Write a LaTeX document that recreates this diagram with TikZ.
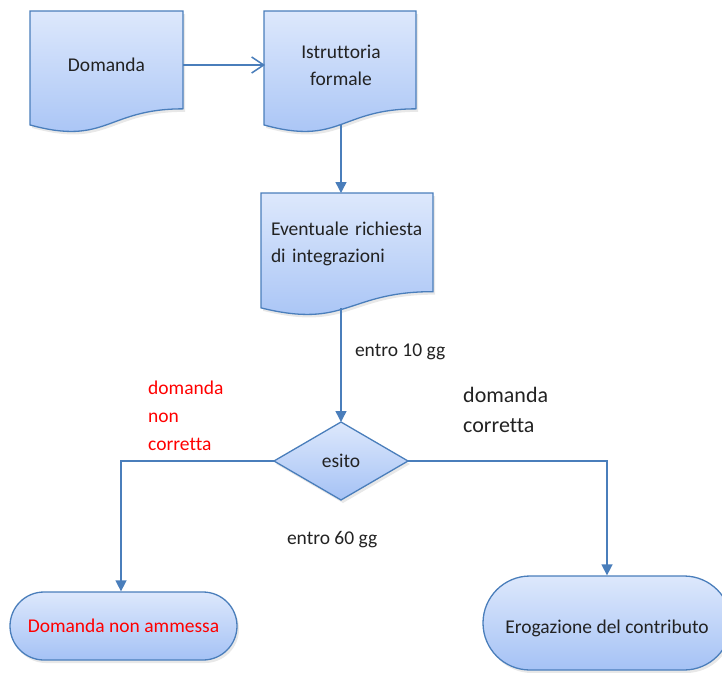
\documentclass[tikz,border=0pt]{standalone}
\usepackage{fontspec}
\setmainfont[Ligatures=NoCommon]{Carlito}
\usetikzlibrary{arrows.meta,shadows,shapes.geometric}
\definecolor{bord}{HTML}{4A7EBB}
\definecolor{ftop}{HTML}{DDE8FC}
\definecolor{fbot}{HTML}{A5C2F5}
\definecolor{txt}{HTML}{222222}
\definecolor{lbl}{HTML}{FF0000}
\tikzset{
  shapestyle/.style={draw=bord, line width=1.3pt, top color=ftop, bottom color=fbot,
    drop shadow={opacity=0.18, shadow xshift=2pt, shadow yshift=-3pt}},
  conn/.style={draw=bord, line width=1.5pt, -{Triangle[length=11pt,width=11pt]}},
  openconn/.style={draw=bord, line width=1.5pt, -{Straight Barb[length=12pt,width=16pt]}},
  lab/.style={font=\fontsize{19.5}{27}\selectfont, text=txt, inner sep=0pt, outer sep=0pt},
  redlab/.style={font=\fontsize{19.5}{28}\selectfont, text=lbl, align=left, inner sep=0pt},
  biglab/.style={font=\fontsize{22}{30}\selectfont, text=txt, align=left, inner sep=0pt},
}
% document shape: x, top y, width, height
\newcommand\docshape[4]{%
  \path[shapestyle] (#1,#2) -- ({#1+#3},#2) -- ({#1+#3},{#2+0.802*#4})
    .. controls ({#1+0.5*#3},{#2+0.802*#4}) and ({#1+0.5*#3},{#2+1.1075*#4})
    .. (#1,{#2+0.934*#4}) -- cycle;}
\begin{document}
\begin{tikzpicture}[x=1pt,y=-1pt]
\useasboundingbox (0,0) rectangle (722,672);
% document shapes
\docshape{30}{11}{153}{122}
\docshape{264}{11}{152}{122}
\docshape{261}{193}{172}{123}
% text nodes on the document shapes
\node[lab, minimum width=153pt, minimum height=106pt] (dom) at (106.5,65) {Domanda};
\node[lab, minimum width=152pt, minimum height=106pt, align=center] (ist) at (341,65) {Istruttoria\\formale};
\node[lab, text width=152pt, inner xsep=10pt, minimum height=102pt, align=left] (eve) at (347,244) {Eventuale richiesta\\di integrazioni};
% decision
\node[diamond, shapestyle, lab, minimum width=134pt, minimum height=78pt] (esito) at (341,461) {esito};
% terminals
\node[shapestyle, rounded corners=34pt, minimum width=227pt, minimum height=68pt, inner sep=0pt,
      font=\fontsize{19.5}{24}\selectfont, text=lbl] (dna) at (123.5,626) {Domanda non ammessa};
\node[shapestyle, rounded corners=47pt, minimum width=248pt, minimum height=94pt, inner sep=0pt,
      text height=20pt, text depth=0pt,
      font=\fontsize{19.5}{24}\selectfont, text=txt] (ero) at (607,623) {Erogazione del contributo};
% helper coordinates
\coordinate (istb) at (341,125);
\coordinate (eveb) at (341,308);
\coordinate (lc) at (121,461);
\coordinate (rc) at (607,461);
% connectors
\draw[openconn] (dom.east) -- (ist.west);
\draw[conn] (istb) -- (istb |- eve.north);
\draw[conn] (eveb) -- (esito.north);
\draw[conn] (esito.west) -- (lc) -- (lc |- dna.north);
\draw[conn] (esito.east) -- (rc) -- (rc |- ero.north);
% labels
\node[lab, anchor=west] (l10) at (355,352) {entro 10 gg};
\node[lab, anchor=west] (l60) at (287,540) {entro 60 gg};
\node[redlab, anchor=west] (lnc) at (148,416) {domanda\\non\\corretta};
\node[biglab, anchor=west] (lc2) at (463,410) {domanda\\corretta};
\end{tikzpicture}
\end{document}
